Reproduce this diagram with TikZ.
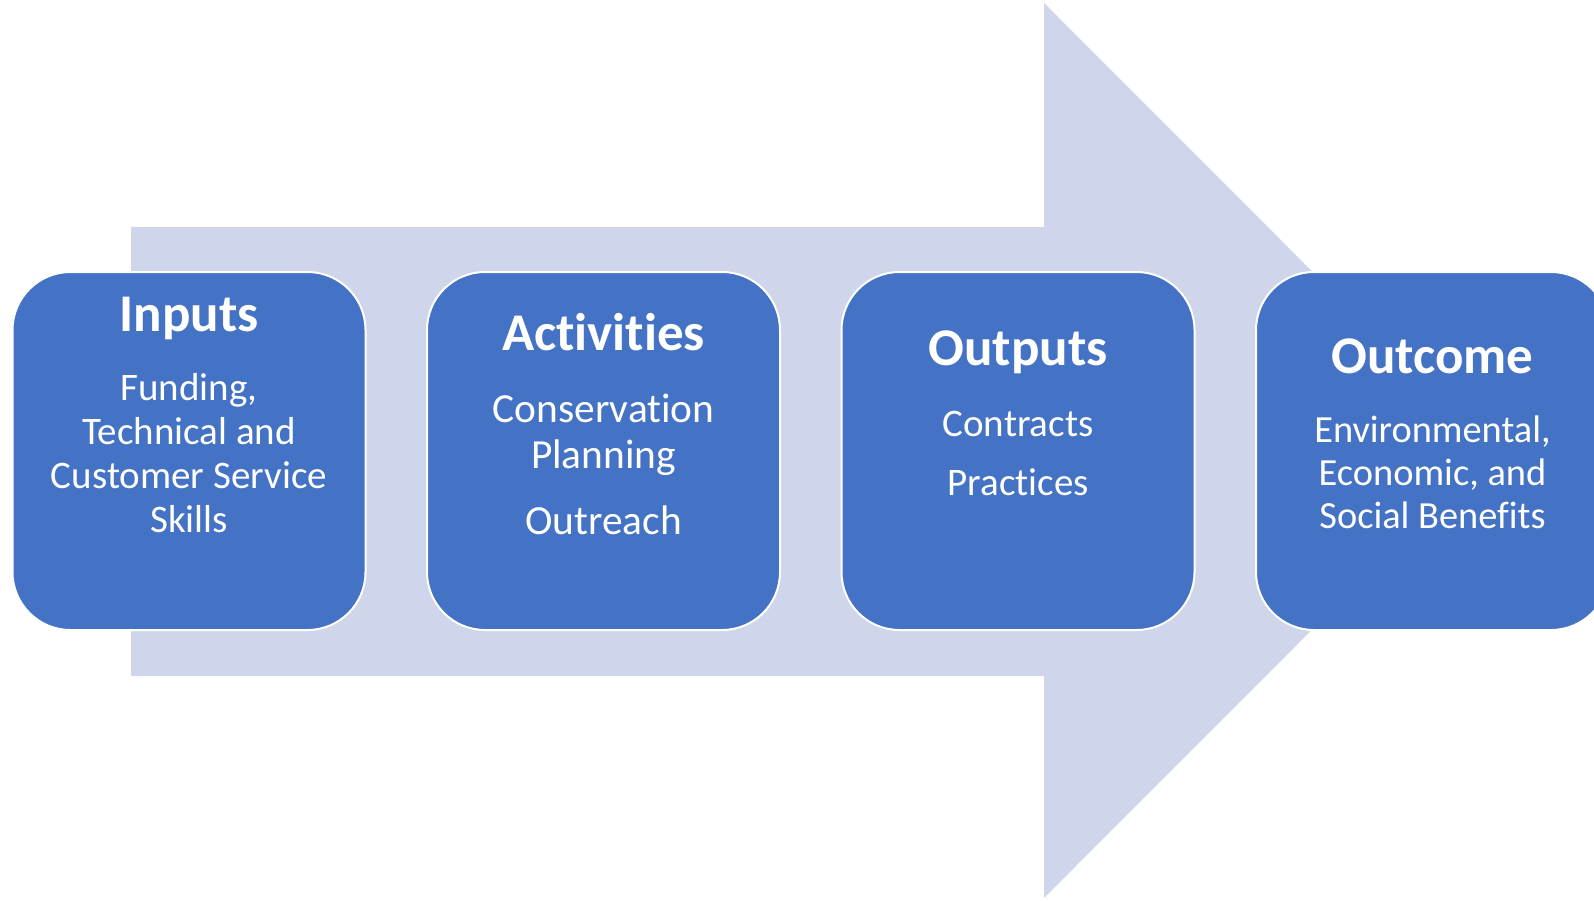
\documentclass[tikz,border=0pt]{standalone}
\usepackage{fontspec}
\setmainfont{Carlito}[RawFeature={-liga;-clig;-dlig;-calt;-rlig}]
\usepackage{xcolor}
\usepackage{tikz}
\usetikzlibrary{positioning}

\definecolor{arrowfill}{HTML}{CFD5EA}
\definecolor{boxblue}{HTML}{4472C4}

\tikzset{
    stage/.style={draw=white, line width=1pt, fill=boxblue, rounded corners=29pt,
        minimum width=176.5pt, minimum height=179pt, outer sep=0pt, inner sep=0pt},
    head/.style={anchor=base, text=white, inner sep=0pt, font=\fontsize{26.5}{30}\selectfont\bfseries},
    body/.style={anchor=base, text=white, inner sep=0pt, font=\fontsize{19.5}{22}\selectfont}
}

\begin{document}
\begin{tikzpicture}[x=0.5pt, y=-0.5pt, node distance=30.75pt]
        \useasboundingbox (0,0) rectangle (1594,900);
        \clip (0,0) rectangle (1594,900);
        % big arrow behind
        \fill[arrowfill] (131,227) -- (1044,227) -- (1044,3) -- (1491,450.5)
            -- (1044,898) -- (1044,676) -- (131,676) -- cycle;
        % stages
        \node[stage] (inputs) at (189,451) {};
        \node[stage, right=of inputs] (activities) {};
        \node[stage, right=of activities] (outputs) {};
        \node[stage, right=of outputs] (outcome) {};
        % texts
        \node[head] (inputsT) at ([yshift=-29.5pt]inputs.north) {Inputs};
        \node[body] (inputsB) at ([yshift=-64pt]inputs.north)
            {\begin{tabular}[t]{@{}c@{}}Funding,\\Technical and\\Customer Service\\Skills\end{tabular}};
        \node[head] (activitiesT) at ([yshift=-39pt]activities.north) {Activities};
        \node[body, font=\fontsize{20.7}{23}\selectfont] (activitiesB) at ([yshift=-75pt]activities.north)
            {\begin{tabular}[t]{@{}c@{}}Conservation\\Planning\end{tabular}};
        \node[body, font=\fontsize{20.7}{23}\selectfont] (activitiesC) at ([yshift=-131pt]activities.north) {Outreach};
        \node[head] (outputsT) at ([yshift=-46.5pt]outputs.north) {Outputs};
        \node[body] (outputsB) at ([yshift=-82pt]outputs.north) {Contracts};
        \node[body] (outputsC) at ([yshift=-111.5pt]outputs.north) {Practices};
        \node[head] (outcomeT) at ([yshift=-50.5pt]outcome.north) {Outcome};
        \node[body, font=\fontsize{19.2}{21.5}\selectfont] (outcomeB) at ([yshift=-85pt]outcome.north)
            {\begin{tabular}[t]{@{}c@{}}Environmental,\\Economic, and\\Social Benefits\end{tabular}};
    \end{tikzpicture}
\end{document}
